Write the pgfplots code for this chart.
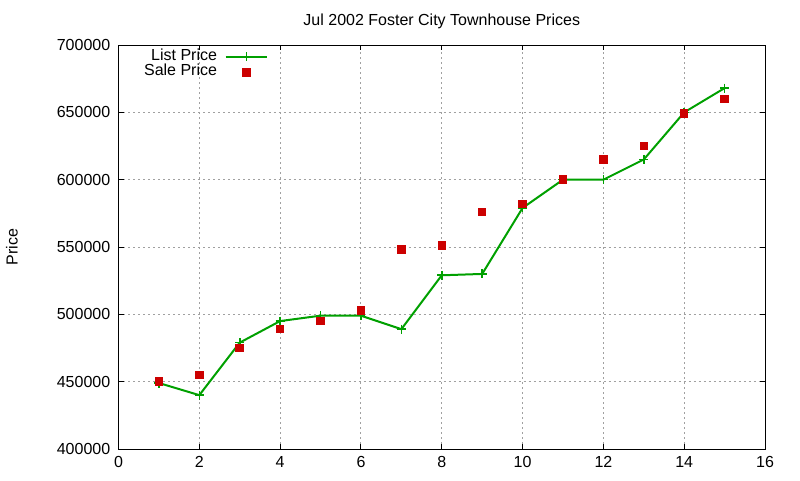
\documentclass[border=0pt]{standalone}
\usepackage{pgfplots}
\pgfplotsset{compat=1.18}
\usepackage{fontspec}
\setmainfont{Liberation Sans}
\definecolor{lgreen}{RGB}{0,160,0}
\definecolor{sred}{RGB}{204,0,0}
\definecolor{gridgray}{RGB}{160,160,160}
\begin{document}
\fontsize{12pt}{14pt}\selectfont
\begin{tikzpicture}
\useasboundingbox (-88.875pt,-23.25pt) rectangle (511.125pt,336.75pt);
\begin{axis}[
  at={(0,0)}, anchor=south west,
  scale only axis,
  width=484.9pt, height=303pt,
  xmin=0, xmax=16, ymin=400000, ymax=700000,
  xtick={0,2,...,16},
  ytick={400000,450000,...,700000},
  scaled y ticks=false,
  /pgf/number format/assume math mode=true,
  yticklabel style={/pgf/number format/fixed,/pgf/number format/1000 sep={},xshift=-2pt},
  xticklabel style={yshift=-1.5pt},
  tick align=inside,
  major tick length=4pt,
  tick style={black,line width=0.75pt},
  axis line style={black,line width=0.75pt},
  grid=major,
  major grid style={gridgray,line width=0.75pt,dash pattern=on 1.5pt off 2.25pt},
  title={Jul 2002 Foster City Townhouse Prices},
  title style={at={(0.5,1)},anchor=base,yshift=9pt,font=\fontsize{12pt}{14pt}\selectfont},
  ylabel={Price},
  ylabel style={at={(axis description cs:0,0.5)},anchor=center,yshift=79.9pt,font=\fontsize{12pt}{14pt}\selectfont},
  ticklabel style={font=\fontsize{12pt}{14pt}\selectfont},
  legend plot pos=right,
  legend cell align=right,
  legend style={at={(axis description cs:0,1)},anchor=north west,xshift=15.5pt,yshift=-1pt,draw=none,fill=none,
    font=\fontsize{12pt}{14pt}\selectfont,
    nodes={inner sep=0.5pt,text height=8pt,text depth=2.5pt}},
  legend image code/.code={\path[draw=none,fill=none] (0pt,0pt) -- (6pt,0pt); \draw[mark repeat=2,mark phase=2,#1] plot coordinates {(6pt,0pt) (21.5pt,0pt) (37pt,0pt)};},
]
\addplot[lgreen,line width=1.5pt,mark=+,mark size=3.4pt,mark options={line width=1.2pt}] coordinates {
(1,449000) (2,440000) (3,479000) (4,495000) (5,499000) (6,499000) (7,489000)
(8,529000) (9,530000) (10,579000) (11,600000) (12,600000) (13,615000) (14,650000) (15,668000)};
\addlegendentry{List Price}
\addplot[only marks,mark=square*,mark size=2.8pt,mark options={draw=sred,fill=sred,line width=0pt}] coordinates {
(1,450000) (2,455000) (3,475000) (4,489000) (5,495000) (6,503000) (7,548000)
(8,551000) (9,576000) (10,582000) (11,600000) (12,615000) (13,625000) (14,649000) (15,660000)};
\addlegendentry{Sale Price}
\end{axis}
\end{tikzpicture}
\end{document}
